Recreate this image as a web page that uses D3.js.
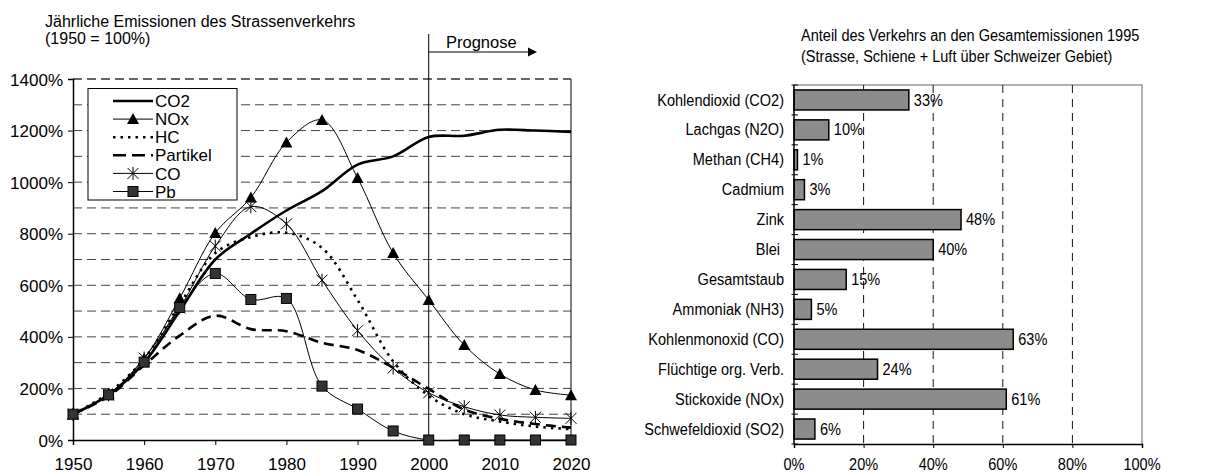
<!DOCTYPE html>
<html>
<head>
<meta charset="utf-8">
<script src="https://cdn.jsdelivr.net/npm/d3@7"></script>
<style>
  html, body { margin: 0; padding: 0; background: #fff; }
  svg { display: block; font-family: "Liberation Sans", Arial, Helvetica, sans-serif; }
</style>
</head>
<body>
<svg id="chart" width="1222" height="473"></svg>
<script>
// Jährliche Emissionen des Strassenverkehrs, index 1950 = 100 %
const years    = [1950, 1955, 1960, 1965, 1970, 1975, 1980, 1985, 1990, 1995, 2000, 2005, 2010, 2015, 2020];
const co2      = [100, 175, 300, 500, 700, 800, 890, 965, 1068, 1100, 1175, 1180, 1203, 1200, 1195];
const nox      = [100, 178, 315, 550, 803, 940, 1154, 1241, 1016, 725, 543, 368, 256, 194, 174];
const hc       = [100, 182, 315, 525, 725, 787, 804, 745, 543, 305, 172, 100, 72, 52, 42];
const partikel = [100, 170, 290, 405, 482, 430, 422, 377, 349, 280, 198, 118, 82, 62, 48];
const co       = [100, 175, 318, 512, 752, 905, 838, 620, 424, 279, 183, 129, 97, 88, 84];
const pb       = [100, 175, 302, 514, 646, 545, 549, 209, 120, 35, 0, 0, 0, 0, 0];
const yTicksLeft = [0, 200, 400, 600, 800, 1000, 1200, 1400];
const xTicksLeft = [1950, 1960, 1970, 1980, 1990, 2000, 2010, 2020];

// Anteil des Verkehrs an den Gesamtemissionen 1995
const categories = ["Kohlendioxid (CO2)", "Lachgas (N2O)", "Methan (CH4)", "Cadmium", "Zink", "Blei ",
                    "Gesamtstaub", "Ammoniak (NH3)", "Kohlenmonoxid (CO)", "Flüchtige org. Verb.",
                    "Stickoxide (NOx)", "Schwefeldioxid (SO2)"];
const shares = [33, 10, 1, 3, 48, 40, 15, 5, 63, 24, 61, 6];
const xTicksRight = [0, 20, 40, 60, 80, 100];

const svg = d3.select("#chart");

/* ---------------- left chart ---------------- */
const L = { left: 73, right: 571, top: 79, bottom: 440 };
const x = d3.scaleLinear().domain([1950, 2020]).range([L.left, L.right]);
const y = d3.scaleLinear().domain([0, 1400]).range([L.bottom, L.top]);
const left = svg.append("g");

// titles
left.append("text").attr("x", 45).attr("y", 26.7).attr("font-size", 16)
  .text("Jährliche Emissionen des Strassenverkehrs");
left.append("text").attr("x", 45).attr("y", 43.5).attr("font-size", 16)
  .text("(1950 = 100%)");

// dashed gridlines every 100 %
left.append("g").selectAll("line").data(d3.range(100, 1401, 100)).join("line")
  .attr("x1", L.left).attr("x2", L.right)
  .attr("y1", d => y(d)).attr("y2", d => y(d))
  .attr("stroke", d => d === 1400 ? "#333" : "#444").attr("stroke-width", d => d === 1400 ? 1.5 : 1)
  .attr("stroke-dasharray", "9,5");

// right frame line
left.append("line").attr("x1", L.right).attr("x2", L.right).attr("y1", L.top).attr("y2", L.bottom)
  .attr("stroke", "#000").attr("stroke-width", 1);

// axes
const yAxisL = d3.axisLeft(y).tickValues(yTicksLeft).tickFormat(d => d + "%").tickSize(5).tickPadding(5);
const gy = left.append("g").attr("transform", `translate(${L.left},0)`).call(yAxisL);
const xAxisL = d3.axisBottom(x).tickValues(xTicksLeft).tickFormat(d3.format("d")).tickSize(5).tickPadding(13);
const gx = left.append("g").attr("transform", `translate(0,${L.bottom})`).call(xAxisL);
[gy, gx].forEach(g => {
  g.select(".domain").attr("stroke", "#000").attr("stroke-width", 1.5);
  g.selectAll(".tick line").attr("stroke", "#000");
  g.selectAll(".tick text").attr("font-size", 17).attr("fill", "#000")
    .attr("font-family", "'Liberation Sans', Arial, sans-serif");
});
gy.selectAll(".tick text").attr("dy", "0.36em");

// forecast marker
left.append("line").attr("x1", x(2000)).attr("x2", x(2000)).attr("y1", 34).attr("y2", L.bottom)
  .attr("stroke", "#000").attr("stroke-width", 1);
left.append("line").attr("x1", x(2000)).attr("x2", 528).attr("y1", 52).attr("y2", 52)
  .attr("stroke", "#000").attr("stroke-width", 1);
left.append("path").attr("d", "M528,47.5 L537,52 L528,56.5 Z").attr("fill", "#000");
left.append("text").attr("x", 446).attr("y", 48).attr("font-size", 16.5).text("Prognose");

// series
const series = [
  { name: "CO2",      values: co2,      width: 2.6, dash: null,    marker: null },
  { name: "NOx",      values: nox,      width: 1,   dash: null,    marker: "triangle" },
  { name: "HC",       values: hc,       width: 2.6, dash: "2.5,5", marker: null },
  { name: "Partikel", values: partikel, width: 2.6, dash: "10,6",  marker: null },
  { name: "CO",       values: co,       width: 1,   dash: null,    marker: "star" },
  { name: "Pb",       values: pb,       width: 1,   dash: null,    marker: "square" }
];

const line = d3.line().x(d => x(d[0])).y(d => y(d[1])).curve(d3.curveCatmullRom.alpha(0.5));

function drawMarker(g, type, cx, cy) {
  if (type === "triangle") {
    g.append("path").attr("d", `M${cx},${cy - 6} L${cx + 6},${cy + 5} L${cx - 6},${cy + 5} Z`)
      .attr("fill", "#000");
  } else if (type === "square") {
    g.append("rect").attr("x", cx - 5).attr("y", cy - 5).attr("width", 10).attr("height", 10)
      .attr("fill", "#333").attr("stroke", "#000").attr("stroke-width", 1);
  } else if (type === "star") {
    const r = 5.5;
    g.append("path")
      .attr("d", `M${cx - r},${cy - r} L${cx + r},${cy + r} M${cx - r},${cy + r} L${cx + r},${cy - r} M${cx},${cy - r - 1} L${cx},${cy + r + 1}`)
      .attr("stroke", "#000").attr("stroke-width", 1).attr("fill", "none");
  }
}

const plot = left.append("g");
series.forEach(s => {
  const pts = years.map((yr, i) => [yr, s.values[i]]);
  plot.append("path").datum(pts).attr("d", line)
    .attr("fill", "none").attr("stroke", "#000").attr("stroke-width", s.width)
    .attr("stroke-dasharray", s.dash);
  if (s.marker) {
    const mg = plot.append("g");
    pts.forEach(p => drawMarker(mg, s.marker, x(p[0]), y(p[1])));
  }
});

// legend
const lg = left.append("g");
lg.append("rect").attr("x", 88).attr("y", 88.5).attr("width", 149).attr("height", 111.5)
  .attr("fill", "#fff").attr("stroke", "#000").attr("stroke-width", 1);
series.forEach((s, i) => {
  const ly = 101 + i * 18.1;
  lg.append("line").attr("x1", 113).attr("x2", 153).attr("y1", ly).attr("y2", ly)
    .attr("stroke", "#000").attr("stroke-width", s.width).attr("stroke-dasharray", s.dash === "10,6" ? "13,6" : s.dash);
  if (s.marker) drawMarker(lg, s.marker, 133, ly);
  lg.append("text").attr("x", 155).attr("y", ly).attr("dy", "0.36em").attr("font-size", 17).text(s.name);
});

/* ---------------- right chart ---------------- */
const R = { left: 794, right: 1142, top: 85, bottom: 444 };
const xr = d3.scaleLinear().domain([0, 100]).range([R.left, R.right]);
const yr = d3.scaleBand().domain(categories).range([R.top, R.bottom]).padding(0);
const right = svg.append("g");
const SX = 0.92; // text on this panel is set slightly narrow

function rtext(g, tx, ty, str, anchor, size) {
  return g.append("text").attr("transform", `translate(${tx},${ty}) scale(${SX},1)`)
    .attr("text-anchor", anchor).attr("font-size", size).style("white-space", "pre").text(str);
}

rtext(right, 801, 40.7, "Anteil des Verkehrs an den Gesamtemissionen 1995", "start", 15.8);
rtext(right, 801, 61.5, "(Strasse, Schiene + Luft über Schweizer Gebiet)", "start", 15.8);

// frame (top + right)
right.append("path").attr("d", `M${R.left},${R.top} H${R.right} V${R.bottom}`)
  .attr("fill", "none").attr("stroke", "#999").attr("stroke-width", 1.5);

// vertical dashed gridlines
right.append("g").selectAll("line").data([20, 40, 60, 80]).join("line")
  .attr("x1", d => xr(d)).attr("x2", d => xr(d)).attr("y1", R.top).attr("y2", R.bottom)
  .attr("stroke", "#111").attr("stroke-width", 1).attr("stroke-dasharray", "8,6");

// bars
const bw = yr.bandwidth();
right.append("g").selectAll("rect").data(categories).join("rect")
  .attr("x", xr(0)).attr("y", d => yr(d) + bw * 0.165)
  .attr("width", (d, i) => xr(shares[i]) - xr(0)).attr("height", bw * 0.67)
  .attr("fill", "#8c8c8c").attr("stroke", "#000").attr("stroke-width", 1.5);

// value labels
categories.forEach((c, i) => {
  rtext(right, xr(shares[i]) + 5, yr(c) + bw / 2 + 5.6, shares[i] + "%", "start", 15.8);
});

// category labels
categories.forEach(c => {
  rtext(right, 784, yr(c) + bw / 2 + 5.6, c, "end", 15.8);
});

// category separator ticks crossing the axis
right.append("g").selectAll("line").data(d3.range(categories.length + 1)).join("line")
  .attr("x1", R.left - 2.5).attr("x2", R.left + 4)
  .attr("y1", i => R.top + i * bw).attr("y2", i => R.top + i * bw)
  .attr("stroke", "#000").attr("stroke-width", 1);

// axes lines
right.append("line").attr("x1", R.left).attr("x2", R.left).attr("y1", R.top).attr("y2", R.bottom)
  .attr("stroke", "#000").attr("stroke-width", 1.5);
const xAxisR = d3.axisBottom(xr).tickValues(xTicksRight).tickFormat(d => d + "%").tickSize(4).tickPadding(0);
const gxr = right.append("g").attr("transform", `translate(0,${R.bottom})`).call(xAxisR);
gxr.select(".domain").attr("stroke", "#000").attr("stroke-width", 1.5);
gxr.selectAll(".tick line").attr("stroke", "#000");
gxr.selectAll(".tick text").remove();
xTicksRight.forEach(t => rtext(right, xr(t), 469.5, t + "%", "middle", 15.8));
</script>
</body>
</html>
